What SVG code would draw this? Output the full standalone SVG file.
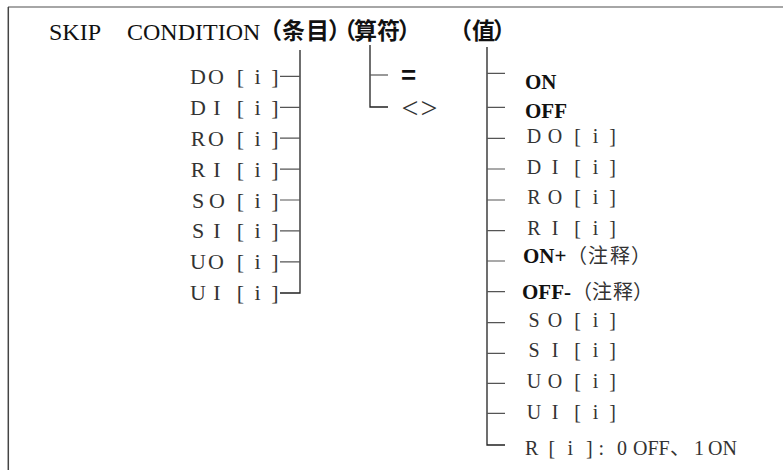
<svg xmlns="http://www.w3.org/2000/svg" width="783" height="470" viewBox="0 0 783 470">
<style>
.title{font-family:"Liberation Serif",serif;font-size:24px;fill:#111}
.tcj{font-family:"Noto Sans CJK SC",sans-serif;font-size:23px;font-weight:700;fill:#111}
.lv{font-family:"Liberation Serif",serif;font-size:22px;fill:#333;text-anchor:middle}
.rv{font-family:"Liberation Serif",serif;font-size:20px;fill:#333;text-anchor:middle}
.rs{font-family:"Liberation Serif",serif;font-size:20px;fill:#333}
.rb{font-family:"Liberation Serif",serif;font-size:21px;font-weight:700;fill:#111}
.cj{font-family:"Noto Sans CJK SC",sans-serif;font-size:20px;font-weight:400;fill:#333}
.main{stroke:#222;stroke-width:1.3;fill:none}
.br{stroke:#555;stroke-width:1.2;fill:none}
</style>
<rect x="0" y="0" width="783" height="470" fill="#fff"/>
<line x1="8" y1="7" x2="783" y2="7" stroke="#888" stroke-width="1.5"/>
<line x1="8.3" y1="7" x2="8.3" y2="470" stroke="#444" stroke-width="1.5"/>

<g id="title">
<text class="title" y="40"><tspan x="49">SKIP </tspan><tspan x="127">CONDITION</tspan></text>
<text class="tcj" y="39" x="259 282 306 328 333 354 377 398">（条目）（算符）</text>
<text class="tcj" y="39" x="449 472 493">（值）</text>
</g>

<g id="connectors">
<path class="main" d="M300 50 V293 H280"/>
<path class="br" d="M280 76.4 H300 M280 107.3 H300 M280 138.2 H300 M280 169.1 H300 M280 200 H300 M280 230.9 H300 M280 261.8 H300"/>
<path class="main" d="M370 45 V107 H388"/>
<path class="br" d="M370 75 H388"/>
<path class="main" d="M487 47 V445 H505"/>
<path class="br" d="M487 73.3 H505 M487 107.3 H505 M487 138.3 H505 M487 169 H505 M487 200 H505 M487 230.7 H505 M487 261 H505 M487 291.7 H505 M487 322.7 H505 M487 353.3 H505 M487 383.3 H505 M487 413.3 H505"/>
</g>

<g id="item-DO"><text class="lv" y="84" x="198 216 228 240.5 249 257.5 266 275">DO [ i ]</text></g>
<g id="item-DI"><text class="lv" y="115" x="198 217 228 240.5 249 257.5 266 275">DI [ i ]</text></g>
<g id="item-RO"><text class="lv" y="146" x="198 216 228 240.5 249 257.5 266 275">RO [ i ]</text></g>
<g id="item-RI"><text class="lv" y="176.5" x="198 217 228 240.5 249 257.5 266 275">RI [ i ]</text></g>
<g id="item-SO"><text class="lv" y="207.5" x="198 217 228 240.5 249 257.5 266 275">SO [ i ]</text></g>
<g id="item-SI"><text class="lv" y="238" x="198 217 228 240.5 249 257.5 266 275">SI [ i ]</text></g>
<g id="item-UO"><text class="lv" y="269" x="198 216 228 240.5 249 257.5 266 275">UO [ i ]</text></g>
<g id="item-UI"><text class="lv" y="300" x="198 217 228 240.5 249 257.5 266 275">UI [ i ]</text></g>

<g id="op-eq"><text x="401" y="84" style="font-family:'Liberation Sans',sans-serif;font-size:26px;font-weight:700;fill:#111">=</text></g>
<g id="op-ne"><text x="410 429" y="118" style="font-family:'Liberation Serif',serif;font-size:30px;fill:#333;text-anchor:middle">&lt;&gt;</text></g>

<g id="val-ON"><text class="rb" x="525" y="89">ON</text></g>
<g id="val-OFF"><text class="rb" x="525" y="118">OFF</text></g>
<g id="val-DO"><text class="rv" y="143" x="534 555 566 577.5 586 595.5 604 612.5">DO [ i ]</text></g>
<g id="val-DI"><text class="rv" y="174" x="534 555 566 577.5 586 595.5 604 612.5">DI [ i ]</text></g>
<g id="val-RO"><text class="rv" y="204" x="534 555 566 577.5 586 595.5 604 612.5">RO [ i ]</text></g>
<g id="val-RI"><text class="rv" y="235" x="534 555 566 577.5 586 595.5 604 612.5">RI [ i ]</text></g>
<g id="val-ONplus"><text y="263"><tspan class="rb" x="523">ON+</tspan><tspan class="cj" x="567 588 610 631">（注释）</tspan></text></g>
<g id="val-OFFminus"><text y="299"><tspan class="rb" x="522">OFF-</tspan><tspan class="cj" x="572 592 613 633">（注释）</tspan></text></g>
<g id="val-SO"><text class="rv" y="327" x="534 555 566 577.5 586 595.5 604 612.5">SO [ i ]</text></g>
<g id="val-SI"><text class="rv" y="357" x="534 555 566 577.5 586 595.5 604 612.5">SI [ i ]</text></g>
<g id="val-UO"><text class="rv" y="388" x="534 555 566 577.5 586 595.5 604 612.5">UO [ i ]</text></g>
<g id="val-UI"><text class="rv" y="419" x="534 555 566 577.5 586 595.5 604 612.5">UI [ i ]</text></g>
<g id="val-R"><text class="rs" y="455"><tspan x="525">R </tspan><tspan x="548.5">[ </tspan><tspan x="567.5">i </tspan><tspan x="586">] </tspan><tspan x="598.5">: </tspan><tspan x="617">0 </tspan><tspan x="633">OFF</tspan><tspan class="cj" x="670">、</tspan><tspan x="694">1 </tspan><tspan x="708">ON</tspan></text></g>
</svg>
